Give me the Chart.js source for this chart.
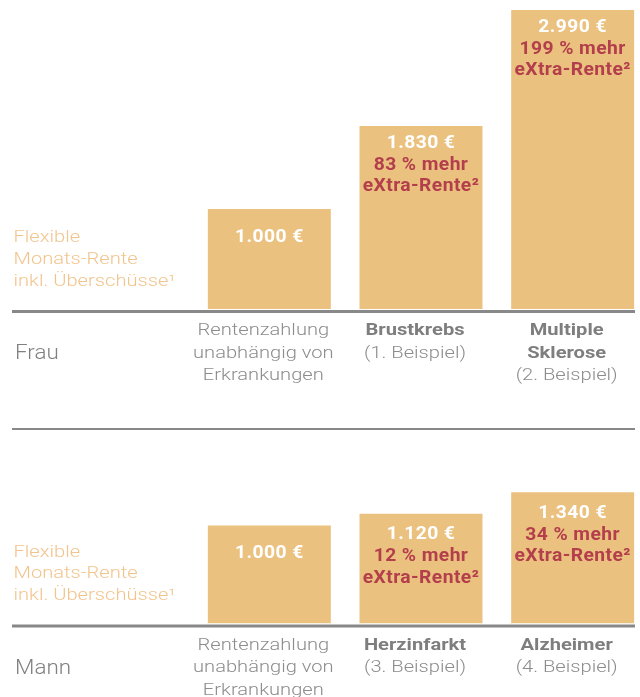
<!DOCTYPE html>
<html>
<head>
<meta charset="utf-8">
<script src="https://cdn.jsdelivr.net/npm/chart.js@4.4.0/dist/chart.umd.min.js"></script>
<style>
  html, body { margin: 0; padding: 0; width: 640px; height: 697px; overflow: hidden; background: #fff; }
  canvas { position: absolute; left: 0; }
  #frauChart { top: 0; }
  #mannChart { top: 430px; }
</style>
</head>
<body>
<canvas id="frauChart" width="660" height="430"></canvas>
<canvas id="mannChart" width="660" height="267"></canvas>
<script>
// data
const sideLabel = ['Flexible', 'Monats-Rente', 'inkl. Überschüsse¹'];
const frauCategories = [['Rentenzahlung', 'unabhängig von', 'Erkrankungen'], ['Brustkrebs', '(1. Beispiel)'], ['Multiple', 'Sklerose', '(2. Beispiel)']];
const frauValues = [1000, 1830, 2990];
const mannCategories = [['Rentenzahlung', 'unabhängig von', 'Erkrankungen'], ['Herzinfarkt', '(3. Beispiel)'], ['Alzheimer', '(4. Beispiel)']];
const mannValues = [1000, 1120, 1340];

const BAR = '#EBC17F';
const ORANGE = '#F2C48D';
const RED = '#B33F4C';
const GREY = '#8c8c8c';

function euro(v) {
  return String(v).replace(/\B(?=(\d{3})+(?!\d))/g, '.') + ' €';
}

// the reference type runs wide, so stretch it a little
function txt(ctx, s, x, y, font, color, align, sx, spacing) {
  ctx.save();
  ctx.font = font;
  ctx.fillStyle = color;
  ctx.textBaseline = 'middle';
  ctx.textAlign = align || 'center';
  ctx.letterSpacing = (spacing || 0) + 'px';
  ctx.translate(x, y);
  ctx.scale(sx || 1.22, 1);
  ctx.fillText(s, 0, 0);
  ctx.restore();
}

const labelsPlugin = {
  id: 'labels',
  afterDatasetsDraw(chart) {
    const o = chart.options.plugins.labels;
    const ctx = chart.ctx;
    const x = chart.scales.x, y = chart.scales.y;
    const bottom = y.getPixelForValue(0);
    const values = chart.data.datasets[0].data;
    const base = values[0];

    ctx.fillStyle = '#888';
    ctx.fillRect(12, bottom + 1, 623, 3);
    if (o.separator) ctx.fillRect(12, o.separator, 623, 2.5);

    sideLabel.forEach((s, i) => txt(ctx, s, 13.5, bottom - 71 + i * 21.8, '300 16.5px Roboto', ORANGE, 'left'));
    txt(ctx, o.name, 15, bottom + 45, '300 20px Roboto', '#808080', 'left', 1.12);

    values.forEach((v, i) => {
      const cx = x.getPixelForValue(i);
      const top = y.getPixelForValue(v);
      const bold = 'bold 18px Roboto';
      if (i === 0) {
        txt(ctx, euro(v), cx, top + 28, bold, '#fff', 'center', 1.07, 0.4);
      } else {
        const pct = Math.round((v - base) / base * 100);
        txt(ctx, euro(v), cx, top + o.offset, bold, '#fff', 'center', 1.07, 0.4);
        txt(ctx, pct + ' % mehr', cx, top + o.offset + 22, bold, RED, 'center', 1.07, 0.4);
        txt(ctx, 'eXtra-Rente²', cx, top + o.offset + 43.5, bold, RED, 'center', 1.07, 0.4);
      }
      o.categories[i].forEach((line, j) => {
        const strong = i > 0 && line[0] !== '(';
        txt(ctx, line, cx - 6, bottom + 22 + j * 22.5,
          strong ? 'bold 16.5px Roboto' : '300 16.5px Roboto',
          strong ? '#7e7e7e' : GREY);
      });
    });
  }
};

function makeChart(id, categories, values, max, padBottom, extra) {
  return new Chart(document.getElementById(id), {
    type: 'bar',
    data: {
      labels: categories.map(c => c.join(' ')),
      datasets: [{
        data: values,
        backgroundColor: BAR,
        barPercentage: 123 / 151.7,
        categoryPercentage: 1
      }]
    },
    options: {
      responsive: false,
      animation: false,
      layout: { padding: { left: 193.5, right: 11.5, top: 0, bottom: padBottom } },
      scales: {
        x: { display: false },
        y: { display: false, min: 0, max: max }
      },
      plugins: {
        legend: { display: false },
        tooltip: { enabled: false },
        labels: Object.assign({ categories: categories }, extra)
      }
    },
    plugins: [labelsPlugin]
  });
}

makeChart('frauChart', frauCategories, frauValues, 3090, 121, { name: 'Frau', offset: 17, separator: 428 });
makeChart('mannChart', mannCategories, mannValues, 1975, 73.5, { name: 'Mann', offset: 21 });
</script>
</body>
</html>
